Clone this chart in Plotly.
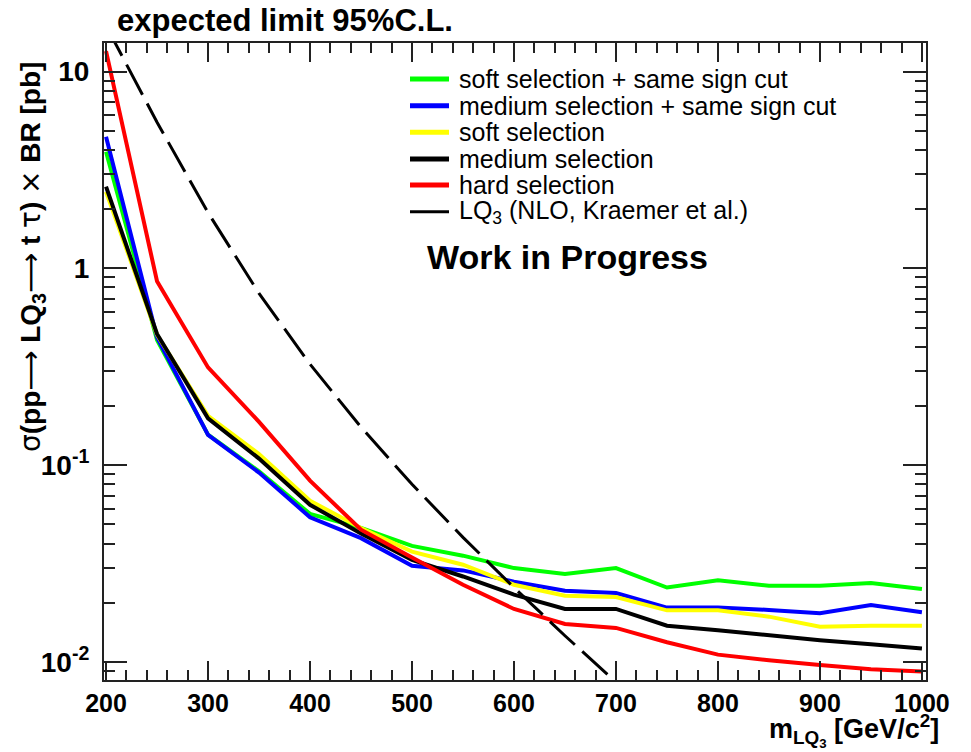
import plotly.graph_objects as go

# ---------------- data ----------------
mass = [200, 250, 300, 350, 400, 450, 500, 550, 600, 650, 700, 750, 800, 850, 900, 950, 1000]
soft_ss = [3.91, 0.433, 0.143, 0.093, 0.0566, 0.048, 0.0389, 0.0347, 0.030, 0.028, 0.030,
           0.0239, 0.026, 0.0244, 0.0244, 0.0252, 0.0235]
medium_ss = [4.66, 0.446, 0.1425, 0.0917, 0.0544, 0.0426, 0.0308, 0.0292, 0.0256, 0.023, 0.0224,
             0.0189, 0.0189, 0.0184, 0.0177, 0.0195, 0.0179]
soft = [2.45, 0.46, 0.178, 0.114, 0.066, 0.048, 0.0364, 0.0312, 0.0247, 0.0217, 0.0214,
        0.0183, 0.0183, 0.0170, 0.0151, 0.0153, 0.0153]
medium = [2.6, 0.464, 0.173, 0.108, 0.0629, 0.045, 0.033, 0.0272, 0.022, 0.0186, 0.0186,
          0.0153, 0.0145, 0.0136, 0.0129, 0.0123, 0.0117]
hard = [12.7, 0.86, 0.314, 0.166, 0.0835, 0.047, 0.034, 0.0247, 0.0186, 0.0156, 0.0149,
        0.0126, 0.0109, 0.0102, 0.00966, 0.0092, 0.00896]
theory_mass = [200, 250, 300, 350, 400, 450, 500, 550, 600, 650, 700]
theory = [17.1, 5.53, 1.92, 0.746, 0.326, 0.156, 0.080, 0.043, 0.0239, 0.0136, 0.0079]

series_names = ["soft selection + same sign cut", "medium selection + same sign cut",
                "soft selection", "medium selection", "hard selection"]
series_values = [soft_ss, medium_ss, soft, medium, hard]
series_colors = ["#00ff00", "#0000ff", "#ffff00", "#000000", "#ff0000"]
theory_name = "LQ<sub>3</sub> (NLO, Kraemer et al.)"

x_major = [200, 300, 400, 500, 600, 700, 800, 900, 1000]
x_labels = ["200", "300", "400", "500", "600", "700", "800", "900", "1000"]
x_minor = [v for v in range(200, 1001, 20) if v % 100 != 0]
y_major = [0.01, 0.1, 1, 10]
y_labels = ["10<sup>-2</sup>", "10<sup>-1</sup>", "1", "10"]
y_minor = [m * d for d in (0.001, 0.01, 0.1, 1, 10) for m in range(2, 10) if 0.008 < m * d < 14]

FONT = "Liberation Sans, Arial, Helvetica, sans-serif"
SYM = "font-family:'DejaVu Sans';font-weight:normal"
AX = "#222222"

# ---------------- figure ----------------
fig = go.Figure()
for name, vals, col in zip(series_names, series_values, series_colors):
    fig.add_trace(go.Scatter(x=mass, y=vals, mode="lines", name=name,
                             line=dict(color=col, width=4), showlegend=False))
fig.add_trace(go.Scatter(x=theory_mass, y=theory, mode="lines", name=theory_name,
                         line=dict(color="black", width=3, dash="34px,10px"), showlegend=False))

L, R, T, B = 104, 45, 43, 72
W, H = 971, 752
pw, ph = W - L - R, H - T - B


def px_x(px):
    return (px - L) / pw


def px_y(py):
    return 1 - (py - T) / ph


# manual legend (samples + texts)
legend_rows = [79, 105.7, 132.3, 159, 185, 211.7]
leg_colors = series_colors + ["black"]
leg_widths = [5, 5, 5, 5, 5, 3]
leg_names = series_names + [theory_name]
shapes = []
annotations = []
for yrow, col, lw, nm in zip(legend_rows, leg_colors, leg_widths, leg_names):
    shapes.append(dict(type="line", xref="paper", yref="paper",
                       x0=px_x(410), x1=px_x(449), y0=px_y(yrow), y1=px_y(yrow),
                       line=dict(color=col, width=lw)))
    annotations.append(dict(xref="paper", yref="paper", x=px_x(457), y=px_y(yrow),
                            xanchor="left", yanchor="middle", showarrow=False, text=nm,
                            font=dict(family=FONT, size=25, color="black")))


def sym(s):
    return f"<span style=\"{SYM}\">{s}</span>"


ytitle = f"{sym('σ')}(pp{sym('⟶')} LQ<sub>3</sub>{sym('⟶')} t {sym('τ')}) {sym('×')} BR [pb]"

annotations += [
    dict(xref="paper", yref="paper", x=px_x(115), y=px_y(20), xanchor="left", yanchor="middle",
         showarrow=False, text="expected limit 95%C.L.",
         font=dict(family=FONT, size=31, color="black", weight="bold")),
    dict(xref="paper", yref="paper", x=px_x(567), y=px_y(257), xanchor="center", yanchor="middle",
         showarrow=False, text="Work in Progress",
         font=dict(family=FONT, size=34, color="black", weight="bold")),
    dict(xref="paper", yref="paper", x=px_x(32), y=px_y(60), xanchor="center", yanchor="top",
         showarrow=False, textangle=-90, text=ytitle,
         font=dict(family=FONT, size=28, color="black", weight="bold")),
    dict(xref="paper", yref="paper", x=px_x(941), y=px_y(730), xanchor="right", yanchor="middle",
         showarrow=False, text="m<sub>LQ<sub>3</sub></sub> [GeV/c<sup>2</sup>]",
         font=dict(family=FONT, size=27, color="black", weight="bold")),
]

fig.update_layout(
    width=W, height=H,
    margin=dict(l=L, r=R, t=T, b=B, pad=0),
    paper_bgcolor="white", plot_bgcolor="white",
    shapes=shapes, annotations=annotations,
    showlegend=False,
    xaxis=dict(range=[198, 1004], tickmode="array", tickvals=x_major, ticktext=x_labels,
               ticks="inside", ticklen=19, tickwidth=2, tickcolor=AX,
               showline=True, linecolor=AX, linewidth=2, mirror="ticks",
               showgrid=False, zeroline=False,
               tickfont=dict(family=FONT, size=25, color="black", weight="bold"),
               minor=dict(tickmode="array", tickvals=x_minor, ticks="inside", ticklen=10,
                          tickwidth=2, tickcolor=AX, showgrid=False)),
    yaxis=dict(type="log", range=[-2.0914, 1.1452], tickmode="array", tickvals=y_major,
               ticktext=y_labels, ticks="inside", ticklen=23, tickwidth=2, tickcolor=AX,
               showline=True, linecolor=AX, linewidth=2, mirror="ticks",
               showgrid=False, zeroline=False, ticklabelstandoff=7,
               tickfont=dict(family=FONT, size=28, color="black", weight="bold"),
               minor=dict(tickmode="array", tickvals=y_minor, ticks="inside", ticklen=11,
                          tickwidth=2, tickcolor=AX, showgrid=False)),
)

fig.write_html("out.html")
